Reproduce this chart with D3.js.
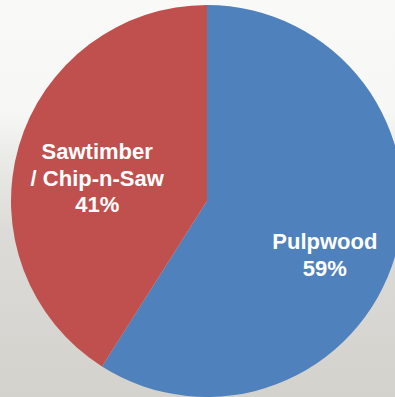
<!DOCTYPE html>
<html>
<head>
<meta charset="utf-8">
<script src="https://cdn.jsdelivr.net/npm/d3@7"></script>
<style>
  html, body { margin: 0; padding: 0; }
  svg { display: block; }
  .label { font-family: "Liberation Sans", Arial, sans-serif; font-weight: bold; font-size: 22px; fill: #fff; }
</style>
</head>
<body>
<svg id="chart" width="395" height="397"></svg>
<script>
// Share of harvest by product
var categories = ["Pulpwood", "Sawtimber / Chip-n-Saw"];
var shares     = [59, 41];
var labelLines = [["Pulpwood", "59%"], ["Sawtimber", "/ Chip-n-Saw", "41%"]];
var colors     = ["#4f81bd", "#c0504d"];

var svg    = d3.select("#chart");
var width  = +svg.attr("width");
var height = +svg.attr("height");
var defs   = svg.append("defs");

// Foggy background (white at top fading into grey)
var bg = defs.append("linearGradient")
             .attr("id", "bg-grad")
             .attr("x1", 0).attr("y1", 0)
             .attr("x2", 0).attr("y2", 1);
bg.append("stop").attr("offset", "0%").attr("stop-color", "#f9f9f8");
bg.append("stop").attr("offset", "28%").attr("stop-color", "#f7f7f6");
bg.append("stop").attr("offset", "40%").attr("stop-color", "#eaeae7");
bg.append("stop").attr("offset", "58%").attr("stop-color", "#dcdbd7");
bg.append("stop").attr("offset", "100%").attr("stop-color", "#d3d2cd");

svg.append("rect")
   .attr("width", width)
   .attr("height", height)
   .attr("fill", "url(#bg-grad)");

var radius = 196;
var cx = 207, cy = 201;

var pie = d3.pie()
            .sort(null)
            .value(function(d) { return d; });

var arcs = pie(shares);

var arc = d3.arc()
            .innerRadius(0)
            .outerRadius(radius);

var labelArc = d3.arc()
                 .innerRadius(0)
                 .outerRadius(radius * 1.22);

var g = svg.append("g")
           .attr("transform", "translate(" + cx + "," + cy + ")");

g.selectAll("path")
 .data(arcs)
 .enter().append("path")
 .attr("d", arc)
 .attr("fill", function(d, i) { return colors[i]; });

// Labels, nudged a little the way the spreadsheet placed them
var nudge = [[3, 21], [5, 11]];
var lineHeight = 26.5;

var label = g.selectAll("text.label")
             .data(arcs)
             .enter().append("text")
             .attr("class", "label")
             .attr("text-anchor", "middle")
             .attr("transform", function(d, i) {
                 var c = labelArc.centroid(d);
                 var n = labelLines[i].length;
                 return "translate(" + (c[0] + nudge[i][0]) + "," +
                        (c[1] + nudge[i][1] - (n - 1) * lineHeight / 2 + 7) + ")";
             });

label.selectAll("tspan")
     .data(function(d, i) { return labelLines[i]; })
     .enter().append("tspan")
     .attr("x", 0)
     .attr("y", function(d, i) { return i * lineHeight; })
     .text(function(d) { return d; });
</script>
</body>
</html>
